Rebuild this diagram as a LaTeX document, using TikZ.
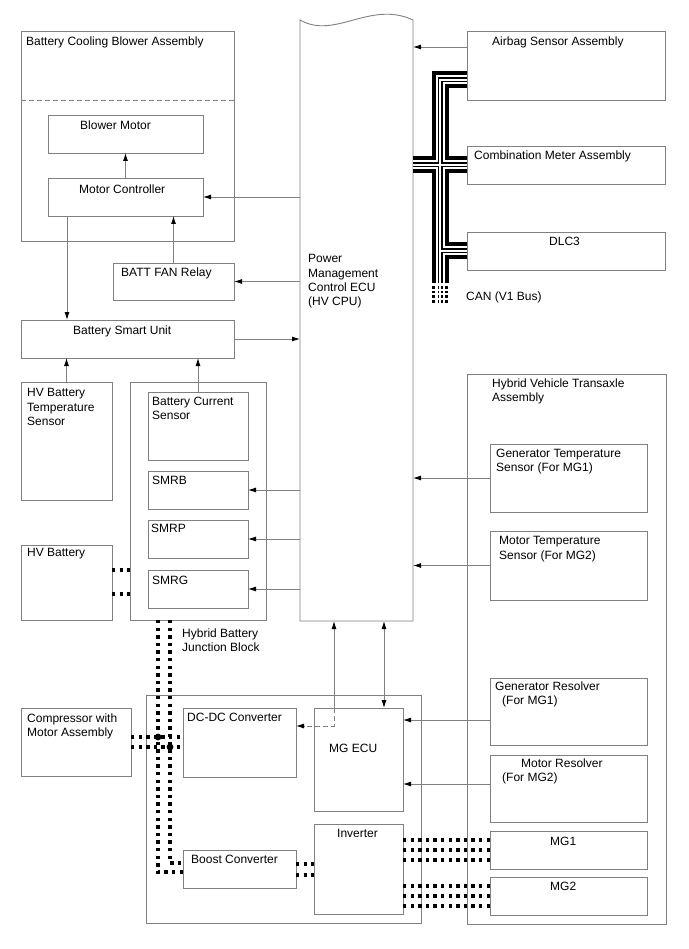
\documentclass[tikz,border=0pt]{standalone}
\usepackage{fontspec}
\setmainfont{Liberation Sans}
\usetikzlibrary{arrows.meta,calc}
\definecolor{linegray}{gray}{0.5}

\begin{document}
\begin{tikzpicture}[x=1pt,y=-1pt,
    >={Latex[length=8pt,width=5pt,color=black]},
    sz/.style 2 args={minimum width=#1pt, minimum height=#2pt},
    box/.style={draw=linegray, line width=0.9pt, anchor=north west, inner sep=0pt, outer sep=0pt},
    lbl/.style={anchor=north west, inner sep=0pt, align=left, font=\fontsize{12}{14.3}\selectfont},
    sig/.style={draw=linegray, line width=0.9pt, ->},
    hv/.style={line width=3.3pt, dash pattern=on 3.3pt off 4.3pt}]
    \useasboundingbox (0,0) rectangle (688,949);

    % Battery cooling blower assembly
    \node[box, sz={213}{210}] (bcba) at (21,31) {};
    \draw[linegray, line width=0.9pt, dash pattern=on 5pt off 3pt]
        ([yshift=-69pt]bcba.north west) -- ([yshift=-69pt]bcba.north east);
    \node[box, sz={155}{38}] (blower) at (48,115) {};
    \node[box, sz={155}{38}] (motorctrl) at (48,178) {};
    \node[box, sz={121}{37}] (fanrelay) at (113,263) {};
    \node[box, sz={213}{38}] (smartunit) at (21,320) {};

    % HV battery side
    \node[box, sz={91}{118}] (hvtemp) at (21,382) {};
    \node[box, sz={136}{238}] (jblock) at (130,382) {};
    \node[box, sz={100}{68}] (cursensor) at (148,392) {};
    \node[box, sz={100}{38}] (smrb) at (148,471) {};
    \node[box, sz={100}{38}] (smrp) at (148,520) {};
    \node[box, sz={100}{38}] (smrg) at (148,570) {};
    \node[box, sz={91}{75}] (hvbatt) at (21,545) {};

    % Compressor and inverter unit
    \node[box, sz={110}{68}] (compressor) at (21,708) {};
    \node[box, sz={275}{228}] (convunit) at (146,695) {};
    \node[box, sz={113}{69}] (dcdc) at (183,708) {};
    \node[box, sz={113}{38}] (boost) at (183,850) {};
    \node[box, sz={89}{103}] (mgecu) at (314,708) {};
    \node[box, sz={89}{90}] (inverter) at (314,824) {};

    % Power management ECU with wavy top
    \node[anchor=north west, inner sep=0pt, outer sep=0pt, sz={113}{601}] (ecu) at (300,20) {};
    \draw[linegray, line width=0.9pt] (ecu.south west) -- (ecu.north west)
        .. controls ($(ecu.north west)+(35,20)$) and ($(ecu.north west)+(70,-20)$) .. (ecu.north east)
        -- (ecu.south east) -- cycle;

    % Right side
    \node[box, sz={198}{69}] (airbag) at (467,31) {};
    \node[box, sz={198}{38}] (combmeter) at (467,146) {};
    \node[box, sz={198}{38}] (dlc) at (467,232) {};
    \node[box, sz={199}{550}] (transaxle) at (467,374) {};
    \node[box, sz={157}{68}] (gentemp) at (490,444) {};
    \node[box, sz={157}{69}] (mottemp) at (490,531) {};
    \node[box, sz={157}{67}] (genres) at (490,678) {};
    \node[box, sz={157}{67}] (motres) at (490,755) {};
    \node[box, sz={157}{38}] (mgone) at (490,831) {};
    \node[box, sz={157}{38}] (mgtwo) at (490,877) {};

    % Labels
    \node[lbl] (t-bcba) at (26,36.5) {Battery Cooling Blower Assembly};
    \node[lbl] (t-blower) at (80,120.5) {Blower Motor};
    \node[lbl] (t-motorctrl) at (79,184.5) {Motor Controller};
    \node[lbl] (t-fanrelay) at (121,267.5) {BATT FAN Relay};
    \node[lbl] (t-smartunit) at (73,325.5) {Battery Smart Unit};
    \node[lbl] (t-hvtemp) at (27,388.5) {HV Battery\\Temperature\\Sensor};
    \node[lbl] (t-cursensor) at (152,396.5) {Battery Current\\Sensor};
    \node[lbl] (t-smrb) at (152,475.5) {SMRB};
    \node[lbl] (t-smrp) at (151,524) {SMRP};
    \node[lbl] (t-smrg) at (152,575.5) {SMRG};
    \node[lbl] (t-hvbatt) at (27,548.5) {HV Battery};
    \node[lbl] (t-jblock) at (182,628.5) {Hybrid Battery\\Junction Block};
    \node[lbl] (t-ecu) at (308,254.5) {Power\\Management\\Control ECU\\(HV CPU)};
    \node[lbl] (t-airbag) at (492,36.5) {Airbag Sensor Assembly};
    \node[lbl] (t-combmeter) at (474,150.5) {Combination Meter Assembly};
    \node[lbl] (t-dlc) at (549,236.5) {DLC3};
    \node[lbl] (t-can) at (466,291.5) {CAN (V1 Bus)};
    \node[lbl] (t-transaxle) at (492,378.5) {Hybrid Vehicle Transaxle\\Assembly};
    \node[lbl] (t-gentemp) at (496,448.5) {Generator Temperature\\Sensor (For MG1)};
    \node[lbl] (t-mottemp) at (499,536.5) {Motor Temperature\\Sensor (For MG2)};
    \node[lbl] (t-genres) at (495,681.5) {Generator Resolver\\\hspace*{7pt}(For MG1)};
    \node[lbl] (t-motres) at (502,758.5) {\hspace*{19pt}Motor Resolver\\(For MG2)};
    \node[lbl] (t-mgone) at (550,836.5) {MG1};
    \node[lbl] (t-mgtwo) at (550,881.5) {MG2};
    \node[lbl] (t-compressor) at (27,713.5) {Compressor with\\Motor Assembly};
    \node[lbl] (t-dcdc) at (187,712.5) {DC-DC Converter};
    \node[lbl] (t-mgecu) at (329,743.5) {MG ECU};
    \node[lbl] (t-boost) at (191,854.5) {Boost Converter};
    \node[lbl] (t-inverter) at (337,829.5) {Inverter};

    % Signal lines
    \draw[sig] (motorctrl.north) -- (blower.south);
    \draw[sig] (fanrelay.north) -- (fanrelay.north |- motorctrl.south);
    \draw[sig] (ecu.west |- motorctrl.east) -- (motorctrl.east);
    \draw[sig] (ecu.west |- fanrelay.east) -- (fanrelay.east);
    \draw[sig] ([xshift=19pt]motorctrl.south west) -- ([xshift=19pt]motorctrl.south west |- smartunit.north);
    \draw[sig] (smartunit.east) -- (smartunit.east -| ecu.west);
    \draw[sig] (hvtemp.north) -- (hvtemp.north |- smartunit.south);
    \draw[sig] (cursensor.north) -- (cursensor.north |- smartunit.south);
    \foreach \s in {smrb,smrp,smrg}
        \draw[sig] (ecu.west |- \s.east) -- (\s.east);
    \coordinate (abin) at ([yshift=-16pt]airbag.north west);
    \draw[sig] (abin) -- (abin -| ecu.east);
    \foreach \s in {gentemp,mottemp}
        \draw[sig] (\s.west) -- (\s.west -| ecu.east);
    \coordinate (resone) at ([yshift=-12pt]mgecu.north east);
    \coordinate (restwo) at ([yshift=-76pt]mgecu.north east);
    \draw[sig] (resone -| genres.west) -- (resone);
    \draw[sig] (restwo -| motres.west) -- (restwo);

    % ECU <-> MG ECU
    \coordinate (mgtap) at ([xshift=20pt]mgecu.north west);
    \coordinate (mgbend) at ([xshift=20pt,yshift=-18pt]mgecu.north west);
    \coordinate (mglink) at ([xshift=70pt]mgecu.north west);
    \draw[sig] (mgtap) -- (mgtap |- ecu.south);
    \draw[sig, dash pattern=on 5pt off 3pt] (mgtap) -- (mgbend) -- (mgbend -| dcdc.east);
    \draw[sig, <->] (mglink |- ecu.south) -- (mglink);

    % High voltage wiring
    \foreach \dy in {25pt,49pt}
        \draw[hv] ([yshift=-\dy]hvbatt.north east) -- ([yshift=-\dy]hvbatt.north east -| jblock.west);
    \coordinate (busa) at ([xshift=28pt]jblock.south west);
    \coordinate (busb) at ([xshift=40pt]jblock.south west);
    \draw[hv] (busa) -- ([yshift=-3pt]busa |- boost.west) -- ([yshift=-3pt]boost.west);
    \draw[hv] (busb) -- ([yshift=6pt]busb |- boost.west) -- ([yshift=6pt]boost.west);
    \coordinate (cpa) at ([yshift=-29pt]compressor.north east);
    \coordinate (cpb) at ([yshift=-39pt]compressor.north east);
    \draw[hv] (cpa) -- (cpa -| dcdc.west);
    \draw[hv] (cpb) -- (cpb -| dcdc.west);
    \fill (cpa -| busa) circle (3.4);
    \fill (cpb -| busb) circle (3.4);
    \foreach \dy in {5pt,-6pt}
        \draw[hv] ([yshift=\dy]boost.east) -- ([yshift=\dy]boost.east -| inverter.west);
    \foreach \m in {mgone,mgtwo}
        \foreach \dy in {10pt,0pt,-10pt}
            \draw[hv] ([yshift=\dy]\m.west -| inverter.east) -- ([yshift=\dy]\m.west);

    % CAN bus (V1)
    \coordinate (canab) at ([yshift=-49pt]airbag.north west);
    \coordinate (canend) at (440,283);
    \foreach \w/\c in {17pt/black, 9pt/white, 5pt/black, 2pt/white} {
        \draw[line width=\w, \c, line join=miter] (canab) -- (canab -| canend) -- (canend);
        \draw[line width=\w, \c] (ecu.east |- combmeter.west) -- (combmeter.west);
        \draw[line width=\w, \c] (dlc.west -| canend) -- (dlc.west);
    }
    \foreach \dx/\w in {-6.5pt/3.5pt, -1.75pt/1.5pt, 1.75pt/1.5pt, 6.5pt/3.5pt}
        \draw[line width=\w, dash pattern=on 2.5pt off 2.2pt] ([xshift=\dx,yshift=-3pt]canend) -- ++(0,18);
\end{tikzpicture}
\end{document}
